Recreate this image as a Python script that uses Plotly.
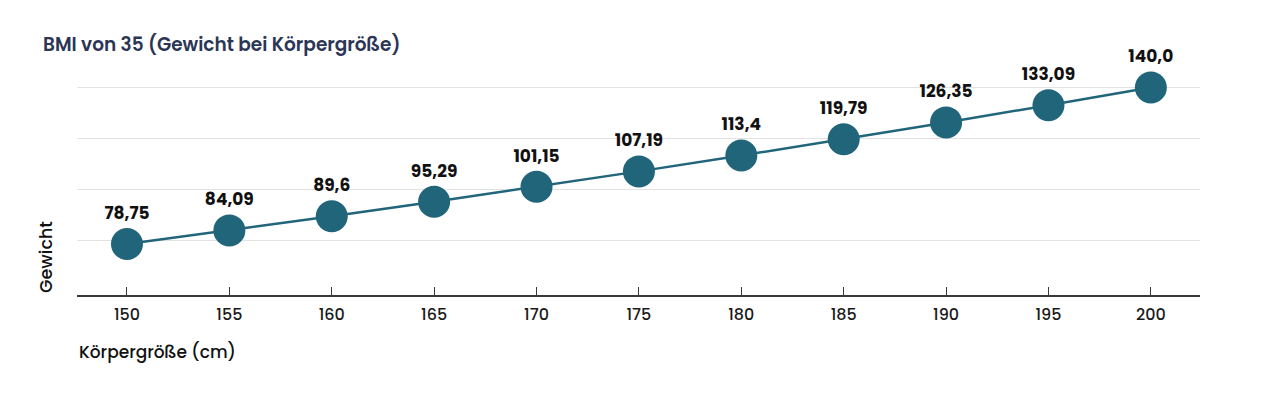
import plotly.graph_objects as go

heights = [150, 155, 160, 165, 170, 175, 180, 185, 190, 195, 200]
weights = [78.75, 84.09, 89.6, 95.29, 101.15, 107.19, 113.4, 119.79, 126.35, 133.09, 140.0]
labels = [str(w).replace(".", ",") for w in weights]

title_text = "BMI von 35 (Gewicht bei Körpergröße)"
x_title = "Körpergröße (cm)"
y_title = "Gewicht"

color = "#21657a"
font_family = "Poppins, Inter, 'Open Sans', sans-serif"

fig = go.Figure()
fig.add_trace(go.Scatter(
    x=heights, y=weights,
    mode="lines+markers+text",
    line=dict(color=color, width=2.5),
    marker=dict(color=color, size=32, line=dict(color=color, width=0)),
    text=labels,
    textposition="top center",
    textfont=dict(family=font_family, size=17, color="#111111", weight="bold"),
    cliponaxis=False,
    hoverinfo="x+y",
))

fig.update_layout(
    width=1280, height=398,
    paper_bgcolor="white", plot_bgcolor="white",
    margin=dict(l=69, r=88, t=77, b=111),
    showlegend=False,
    font=dict(family=font_family, color="#222222"),
    xaxis=dict(
        range=[147.56, 202.4],
        tickvals=heights,
        ticktext=[str(h) for h in heights],
        showgrid=False, zeroline=False,
        showline=True, linecolor="#3a3a3a", linewidth=1.5,
        ticks="inside", ticklen=8, tickcolor="#3a3a3a", tickwidth=1.2,
        ticklabelstandoff=4,
        tickfont=dict(size=16, color="#1a1a1a", family=font_family, weight=500),
    ),
    yaxis=dict(
        range=[58.8, 141],
        tickvals=[80, 100, 120, 140],
        showticklabels=False,
        showgrid=True, gridcolor="#e2e2e2", gridwidth=1,
        zeroline=False, showline=False,
    ),
    annotations=[
        dict(text=title_text, xref="paper", yref="paper", x=-0.032, y=1.0,
             yshift=41, xanchor="left", yanchor="middle", showarrow=False,
             font=dict(size=18.5, color="#2b3656", family=font_family, weight=600)),
        dict(text=x_title, xref="paper", yref="paper", x=0, y=0,
             yshift=-57, xanchor="left", yanchor="middle", showarrow=False,
             font=dict(size=17, color="#111111", family=font_family, weight=500)),
        dict(text=y_title, xref="paper", yref="paper", x=0, y=0,
             xshift=-31, xanchor="center", yanchor="bottom", textangle=-90,
             showarrow=False,
             font=dict(size=17.5, color="#111111", family=font_family, weight=500)),
    ],
)

fig.write_html("out.html")
